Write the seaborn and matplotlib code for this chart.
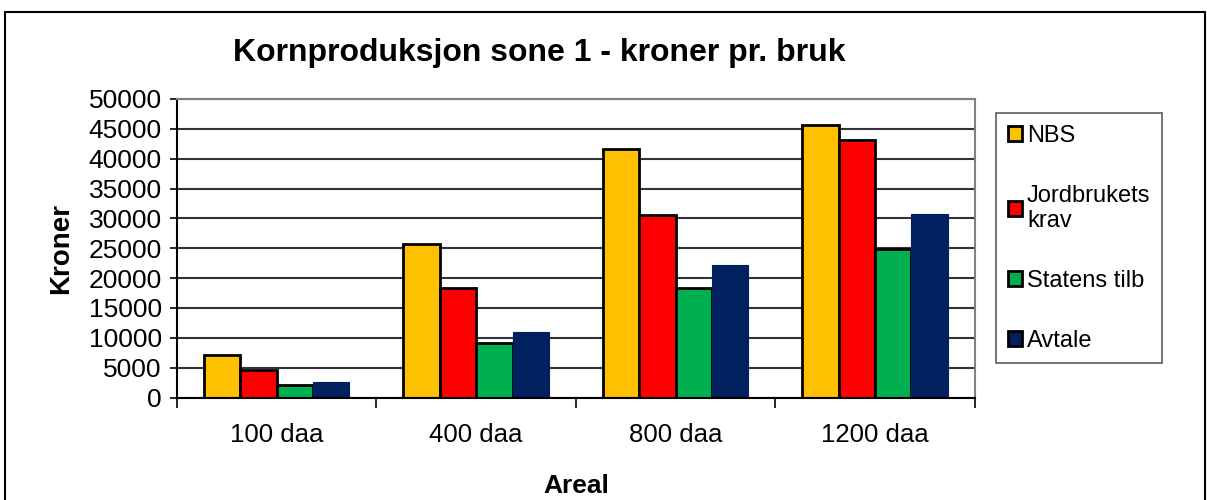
import seaborn as sns
import matplotlib.pyplot as plt
import matplotlib.patches as mpatches
import pandas as pd

# Data
areal = ["100 daa", "400 daa", "800 daa", "1200 daa"]
serier = ["NBS", "Jordbrukets\nkrav", "Statens tilb", "Avtale"]
nbs = [7100, 25700, 41600, 45700]
jordbruk = [4600, 18300, 30600, 43100]
staten = [2100, 9100, 18300, 24800]
avtale = [2600, 11000, 22200, 30800]

farger = ["#FFC000", "#FF0000", "#00B050", "#002060"]

df = pd.DataFrame({
    "Areal": areal * 4,
    "Serie": [s for s in serier for _ in areal],
    "Kroner": nbs + jordbruk + staten + avtale,
})

plt.rcParams["font.family"] = ["Liberation Sans", "DejaVu Sans"]

fig = plt.figure(figsize=(12.07, 5.0), dpi=100)
ax = fig.add_axes([0.1466, 0.205, 0.661, 0.597])

sns.barplot(data=df, x="Areal", y="Kroner", hue="Serie", order=areal,
            hue_order=serier, palette=farger, width=0.73, saturation=1,
            edgecolor="black", linewidth=2, ax=ax, legend=True)

# blue bars have no black outline
for bar in ax.containers[3]:
    bar.set_edgecolor("#002060")
    bar.set_linewidth(0.8)

ax.set_ylim(0, 50000)
ax.set_xlim(-0.5, 3.5)
ax.set_yticks(range(0, 50001, 5000))
ax.yaxis.grid(True, color="#333333", linewidth=1.5)
ax.set_axisbelow(True)

ax.tick_params(axis="y", labelsize=19, length=5, width=1.2, direction="out", pad=6)
ax.tick_params(axis="x", which="major", labelsize=18.5, length=0, pad=18)
ax.set_xticks([-0.5, 0.5, 1.5, 2.5, 3.5], minor=True)
ax.tick_params(axis="x", which="minor", length=7, width=1.2, direction="out")

for side in ["top", "right"]:
    ax.spines[side].set_color("#808080")
    ax.spines[side].set_linewidth(1.5)
for side in ["left", "bottom"]:
    ax.spines[side].set_color("black")
    ax.spines[side].set_linewidth(1.5)

ax.set_ylabel("Kroner", fontsize=20, fontweight="bold", labelpad=10)
ax.set_xlabel("Areal", fontsize=19, fontweight="bold", labelpad=20)

fig.text(0.447, 0.893, "Kornproduksjon sone 1 - kroner pr. bruk",
         ha="center", va="center", fontsize=23, fontweight="bold")

handles, labels = ax.get_legend_handles_labels()
leg = ax.legend(handles, labels, loc="upper left", bbox_to_anchor=(1.027, 0.953),
                frameon=True, fancybox=False, edgecolor="#333333", fontsize=17,
                handlelength=0.6, handleheight=0.6, handletextpad=0.2,
                labelspacing=1.6, borderpad=0.5, borderaxespad=0)
leg.get_frame().set_linewidth(1.2)

# outer chart border
fig.patches.append(mpatches.Rectangle((0.004, -0.01), 0.994, 0.986,
                                      transform=fig.transFigure, fill=False,
                                      edgecolor="black", linewidth=1.5))

fig.savefig("out.png", dpi=100)
